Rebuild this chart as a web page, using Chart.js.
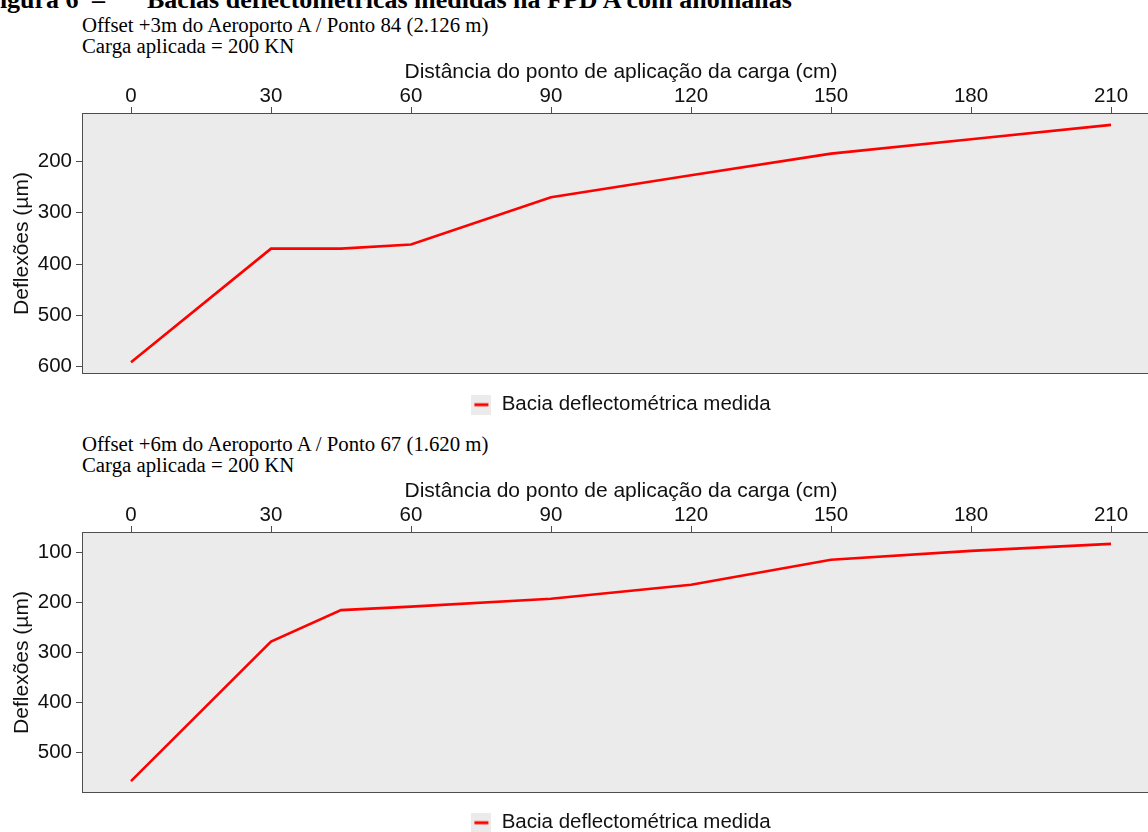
<!DOCTYPE html>
<html>
<head>
<meta charset="utf-8">
<script src="https://cdn.jsdelivr.net/npm/chart.js@4.4.1/dist/chart.umd.min.js"></script>
<style>
  html, body { margin: 0; padding: 0; width: 1148px; height: 832px; overflow: hidden; background: #fff; }
  .head { position: absolute; top: -13px; font-family: "Liberation Serif", "Times New Roman", serif; font-weight: bold; font-size: 26px; line-height: 26px; white-space: nowrap; color: #000; }
  .cap { position: absolute; left: 82px; font-family: "Liberation Serif", "Times New Roman", serif; font-size: 20.8px; line-height: 21px; white-space: nowrap; color: #000; }
  .box { position: absolute; left: 0; width: 1160px; }
</style>
</head>
<body>
<div class="head" style="left:-16px">Figura 6</div>
<div class="head" style="left:92px">–</div>
<div class="head" style="left:147px">Bacias deflectométricas medidas na FPD A com anomalias</div>

<div class="cap" style="top:14px">Offset +3m do Aeroporto A / Ponto 84 (2.126 m)<br>Carga aplicada = 200 KN</div>
<div class="box" style="top:60px; height:365px"><canvas id="basin84"></canvas></div>

<div class="cap" style="top:433px">Offset +6m do Aeroporto A / Ponto 67 (1.620 m)<br>Carga aplicada = 200 KN</div>
<div class="box" style="top:479px; height:364px"><canvas id="basin67"></canvas></div>

<script>
// Sensor distances from the load plate (cm)
const distances = [0, 30, 45, 60, 90, 120, 150, 180, 210];
// Measured deflections (µm)
const deflectionsP84 = [591, 370, 370, 362, 270, 227, 185, 157, 129];
const deflectionsP67 = [558, 278, 215, 208, 192, 164, 114, 96, 82];
// Tick labels
const distanceTicks = [0, 30, 60, 90, 120, 150, 180, 210];
const deflectionTicksP84 = [200, 300, 400, 500, 600];
const deflectionTicksP67 = [100, 200, 300, 400, 500];

const SERIES_LABEL = 'Bacia deflectométrica medida';
const INK = '#111111';
const FRAME = '#4d4d4d';

Chart.defaults.font.family = '"Liberation Sans", Arial, sans-serif';
Chart.defaults.color = INK;

// 5% padding on both sides of the data range
function expanded(values) {
  const lo = Math.min(...values), hi = Math.max(...values);
  const pad = (hi - lo) * 0.05;
  return { min: lo - pad, max: hi + pad };
}

// Legend key: grey square with a short red stroke
function legendKey() {
  const c = document.createElement('canvas');
  c.width = 20; c.height = 20;
  const g = c.getContext('2d');
  g.fillStyle = '#ebebeb';
  g.fillRect(0, 0, 20, 20);
  g.strokeStyle = '#ff0000';
  g.lineWidth = 3;
  g.beginPath();
  g.moveTo(3, 10);
  g.lineTo(17, 10);
  g.stroke();
  return c;
}

// Grey panel behind the data, framed, with the legend centred under the panel
const panel = {
  id: 'panel',
  afterLayout(chart) {
    chart.legend.left = chart.chartArea.left;
  },
  beforeDraw(chart) {
    const { ctx, chartArea: a } = chart;
    ctx.save();
    ctx.fillStyle = '#ebebeb';
    ctx.fillRect(a.left, a.top, a.right - a.left, a.bottom - a.top);
    ctx.restore();
  },
  afterDraw(chart) {
    const { ctx, chartArea: a } = chart;
    ctx.save();
    ctx.strokeStyle = FRAME;
    ctx.lineWidth = 1;
    ctx.strokeRect(Math.round(a.left) + 0.5, Math.round(a.top) + 0.5,
                   Math.round(a.right - a.left) - 1, Math.round(a.bottom - a.top) - 1);
    ctx.restore();
  }
};

function basinChart(canvasId, values, yTicks, legendPadding) {
  const xr = expanded(distances);
  const yr = expanded(values);
  return new Chart(document.getElementById(canvasId), {
    type: 'line',
    data: {
      datasets: [{
        label: SERIES_LABEL,
        data: distances.map((d, i) => ({ x: d, y: values[i] })),
        borderColor: '#ff0000',
        borderWidth: 2.6,
        pointRadius: 0,
        tension: 0,
        fill: false
      }]
    },
    options: {
      responsive: true,
      maintainAspectRatio: false,
      animation: false,
      devicePixelRatio: 1,
      layout: { padding: 0 },
      scales: {
        x: {
          type: 'linear',
          position: 'top',
          min: xr.min,
          max: xr.max,
          afterBuildTicks: s => { s.ticks = distanceTicks.map(v => ({ value: v })); },
          afterFit: s => { s.height = 53; },
          grid: { drawOnChartArea: false, drawTicks: true, tickLength: 6, color: FRAME, lineWidth: 1 },
          border: { display: false },
          ticks: { font: { size: 20.5, lineHeight: 1 }, color: INK, padding: 0, maxRotation: 0, autoSkip: false },
          title: { display: true, text: 'Distância do ponto de aplicação da carga (cm)',
                   font: { size: 21 }, color: INK, padding: { top: 0, bottom: 0 } }
        },
        y: {
          type: 'linear',
          reverse: true,
          min: yr.min,
          max: yr.max,
          afterBuildTicks: s => { s.ticks = yTicks.map(v => ({ value: v })); },
          afterFit: s => { s.width = 82; },
          grid: { drawOnChartArea: false, drawTicks: true, tickLength: 6, color: FRAME, lineWidth: 1 },
          border: { display: false },
          ticks: { font: { size: 20.5 }, color: INK, padding: 4, autoSkip: false },
          title: { display: true, text: 'Deflexões (µm)',
                   font: { size: 21 }, color: INK, padding: { top: 10, bottom: 0 } }
        }
      },
      plugins: {
        tooltip: { enabled: false },
        legend: {
          display: true,
          position: 'bottom',
          labels: {
            usePointStyle: true,
            pointStyle: legendKey(),
            pointStyleWidth: 20,
            boxHeight: 20,
            padding: legendPadding,
            font: { size: 20.5 },
            color: INK
          }
        }
      }
    },
    plugins: [panel]
  });
}

basinChart('basin84', deflectionsP84, deflectionTicksP84, 20.5);
basinChart('basin67', deflectionsP67, deflectionTicksP67, 19.5);
</script>
</body>
</html>
